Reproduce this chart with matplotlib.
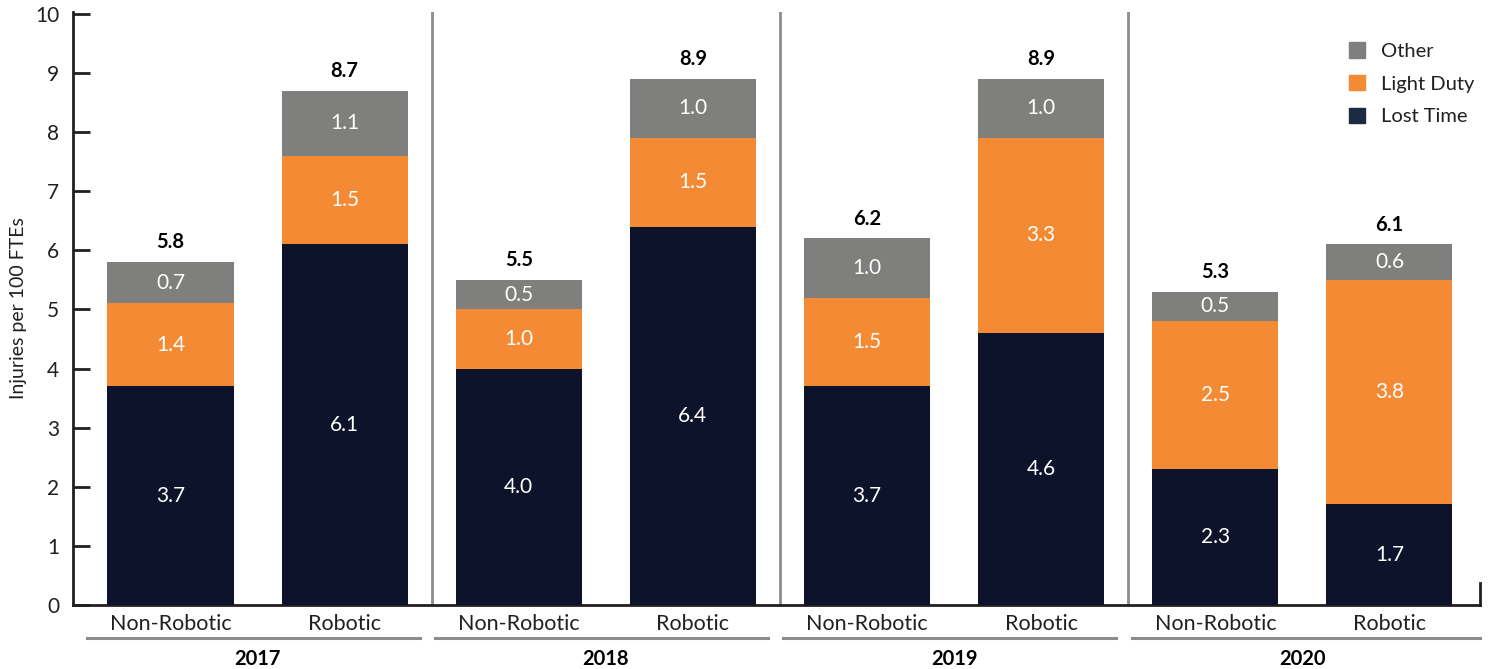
import matplotlib
matplotlib.use("Agg")
import matplotlib.pyplot as plt
from matplotlib.patches import Patch
import matplotlib.transforms as mtransforms

years = ["2017", "2018", "2019", "2020"]
types = ["Non-Robotic", "Robotic"]
lost_time = [3.7, 6.1, 4.0, 6.4, 3.7, 4.6, 2.3, 1.7]
light_duty = [1.4, 1.5, 1.0, 1.5, 1.5, 3.3, 2.5, 3.8]
other = [0.7, 1.1, 0.5, 1.0, 1.0, 1.0, 0.5, 0.6]
totals = [5.8, 8.7, 5.5, 8.9, 6.2, 8.9, 5.3, 6.1]
yticks = list(range(0, 11))

C_LOST = "#0c132b"
C_LOST_LEG = "#1d2a44"
C_LIGHT = "#f48a33"
C_OTHER = "#7f7f7d"
C_TEXT = "#231f20"
C_SEP = "#8c8c8c"

plt.rcParams['font.family'] = ['Lato', 'DejaVu Sans']

W, H = 1489, 669
fig = plt.figure(figsize=(W / 100, H / 100), dpi=100)
ax = fig.add_axes([73 / W, 64 / H, (1480 - 73) / W, (605 - 12) / H])
ax.patch.set_alpha(0)

n = len(lost_time)
x = list(range(n))
bw = 0.724
bottom2 = [a + b for a, b in zip(lost_time, light_duty)]
ax.bar(x, lost_time, bw, color=C_LOST, zorder=3)
ax.bar(x, light_duty, bw, bottom=lost_time, color=C_LIGHT, zorder=3)
ax.bar(x, other, bw, bottom=bottom2, color=C_OTHER, zorder=3)

for i in range(n):
    ax.text(x[i], lost_time[i] / 2, f"{lost_time[i]:.1f}", ha="center", va="center",
            color="white", fontsize=15, zorder=4)
    ax.text(x[i], lost_time[i] + light_duty[i] / 2, f"{light_duty[i]:.1f}", ha="center",
            va="center", color="white", fontsize=15, zorder=4)
    ax.text(x[i], bottom2[i] + other[i] / 2, f"{other[i]:.1f}", ha="center", va="center",
            color="white", fontsize=15, zorder=4)
    ax.annotate(f"{totals[i]:.1f}", (x[i], bottom2[i] + other[i]), xytext=(0, 7),
                textcoords="offset points", ha="center", va="bottom", fontsize=14.5,
                fontweight="bold", color="black", zorder=4)

xmin, xmax = -0.56, 7.52
ax.set_xlim(xmin, xmax)
ax.set_ylim(0, 10.03)

# separators between year groups
for g in range(1, len(years)):
    ax.axvline(2 * g - 0.5, color=C_SEP, lw=2, zorder=2)

for s in ["top", "right"]:
    ax.spines[s].set_visible(False)
for s in ["left", "bottom"]:
    ax.spines[s].set_color(C_TEXT)
    ax.spines[s].set_linewidth(2)
    ax.spines[s].set_zorder(2.5)

# small right end tick
ax.plot([xmax, xmax], [0, 0.37], color=C_TEXT, lw=2, clip_on=False, zorder=2.5)

ax.set_yticks(yticks)
ax.set_yticklabels([str(t) for t in yticks], fontsize=15, color=C_TEXT)
ax.tick_params(axis="y", direction="in", length=12, width=2, color=C_TEXT, pad=10)
ax.set_xticks([])
ax.set_ylabel("Injuries per 100 FTEs", fontsize=14, color=C_TEXT, labelpad=6)

trans = mtransforms.blended_transform_factory(ax.transData, fig.transFigure)
for i in range(n):
    ax.text(x[i], 1 - 624 / H, types[i % 2], transform=trans, ha="center", va="center",
            fontsize=15.5, color=C_TEXT)
for g, yr in enumerate(years):
    x0 = 2 * g - 0.48
    x1 = 2 * g + 1.43 if g < len(years) - 1 else xmax
    ax.plot([x0, x1], [1 - 638 / H] * 2, transform=trans, color=C_SEP, lw=2.2,
            clip_on=False)
    ax.text(2 * g + 0.5, 1 - 659 / H, yr, transform=trans, ha="center", va="center",
            fontsize=14.5, fontweight="bold", color="black")

handles = [Patch(color=C_OTHER), Patch(color=C_LIGHT), Patch(color=C_LOST_LEG)]
fig.legend(handles, ["Other", "Light Duty", "Lost Time"], loc="upper left",
           bbox_to_anchor=(1331 / W, 1 - 24 / H), frameon=False, fontsize=14.5,
           handlelength=0.8, handleheight=0.8, handletextpad=0.8, labelspacing=0.75,
           labelcolor=C_TEXT)

fig.savefig("out.png", dpi=100)
